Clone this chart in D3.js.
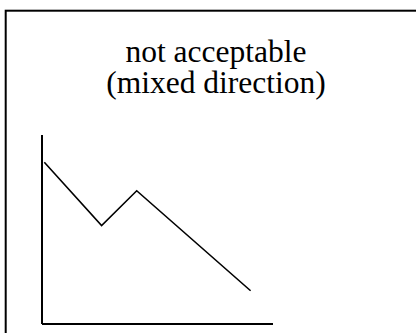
<!DOCTYPE html>
<html>
<head>
<meta charset="utf-8">
<script src="https://cdn.jsdelivr.net/npm/d3@7"></script>
<style>
html, body { margin: 0; padding: 0; background: #fff; }
svg { display: block; }
</style>
</head>
<body>
<svg id="chart" width="416" height="333"></svg>
<script>
const titleLines = ["not acceptable", "(mixed direction)"];
const xValues = [0.1, 2.58, 4.1, 9.03];
const yValues = [8.56, 5.21, 7.05, 1.76];

const svg = d3.select("#chart");

// outer frame (extends past the window on right and bottom)
svg.append("rect")
  .attr("x", 5.7).attr("y", 10.7)
  .attr("width", 600).attr("height", 600)
  .attr("fill", "none").attr("stroke", "#000").attr("stroke-width", 2);

// title, one text element per line
svg.selectAll("text.title").data(titleLines).join("text")
  .attr("class", "title")
  .attr("x", 216)
  .attr("y", (d, i) => 62 + i * 31)
  .attr("text-anchor", "middle")
  .attr("font-family", "'Liberation Serif', 'Times New Roman', serif")
  .attr("font-size", 31.5)
  .attr("fill", "#000")
  .text(d => d);

const x0 = 41.5, x1 = 272.5, y0 = 323.5, y1 = 134.5;
const x = d3.scaleLinear().domain([0, 10]).range([0, x1 - x0]);
const y = d3.scaleLinear().domain([0, 10]).range([y0 - y1, 0]);

const g = svg.append("g").attr("transform", `translate(${x0},${y1})`);

const xAxis = g.append("g").attr("transform", `translate(0,${y0 - y1})`)
  .call(d3.axisBottom(x).ticks(0).tickSizeOuter(0));
const yAxis = g.append("g")
  .call(d3.axisLeft(y).ticks(0).tickSizeOuter(0));
[xAxis, yAxis].forEach(a => {
  a.selectAll(".tick").remove();
  a.select(".domain").attr("stroke", "#000").attr("stroke-width", 2);
});

const pts = xValues.map((v, i) => [v, yValues[i]]);
g.append("path")
  .datum(pts)
  .attr("d", d3.line().x(d => x(d[0]) + 0.5).y(d => y(d[1]) + 0.5))
  .attr("fill", "none")
  .attr("stroke", "#000")
  .attr("stroke-width", 1.6);
</script>
</body>
</html>
